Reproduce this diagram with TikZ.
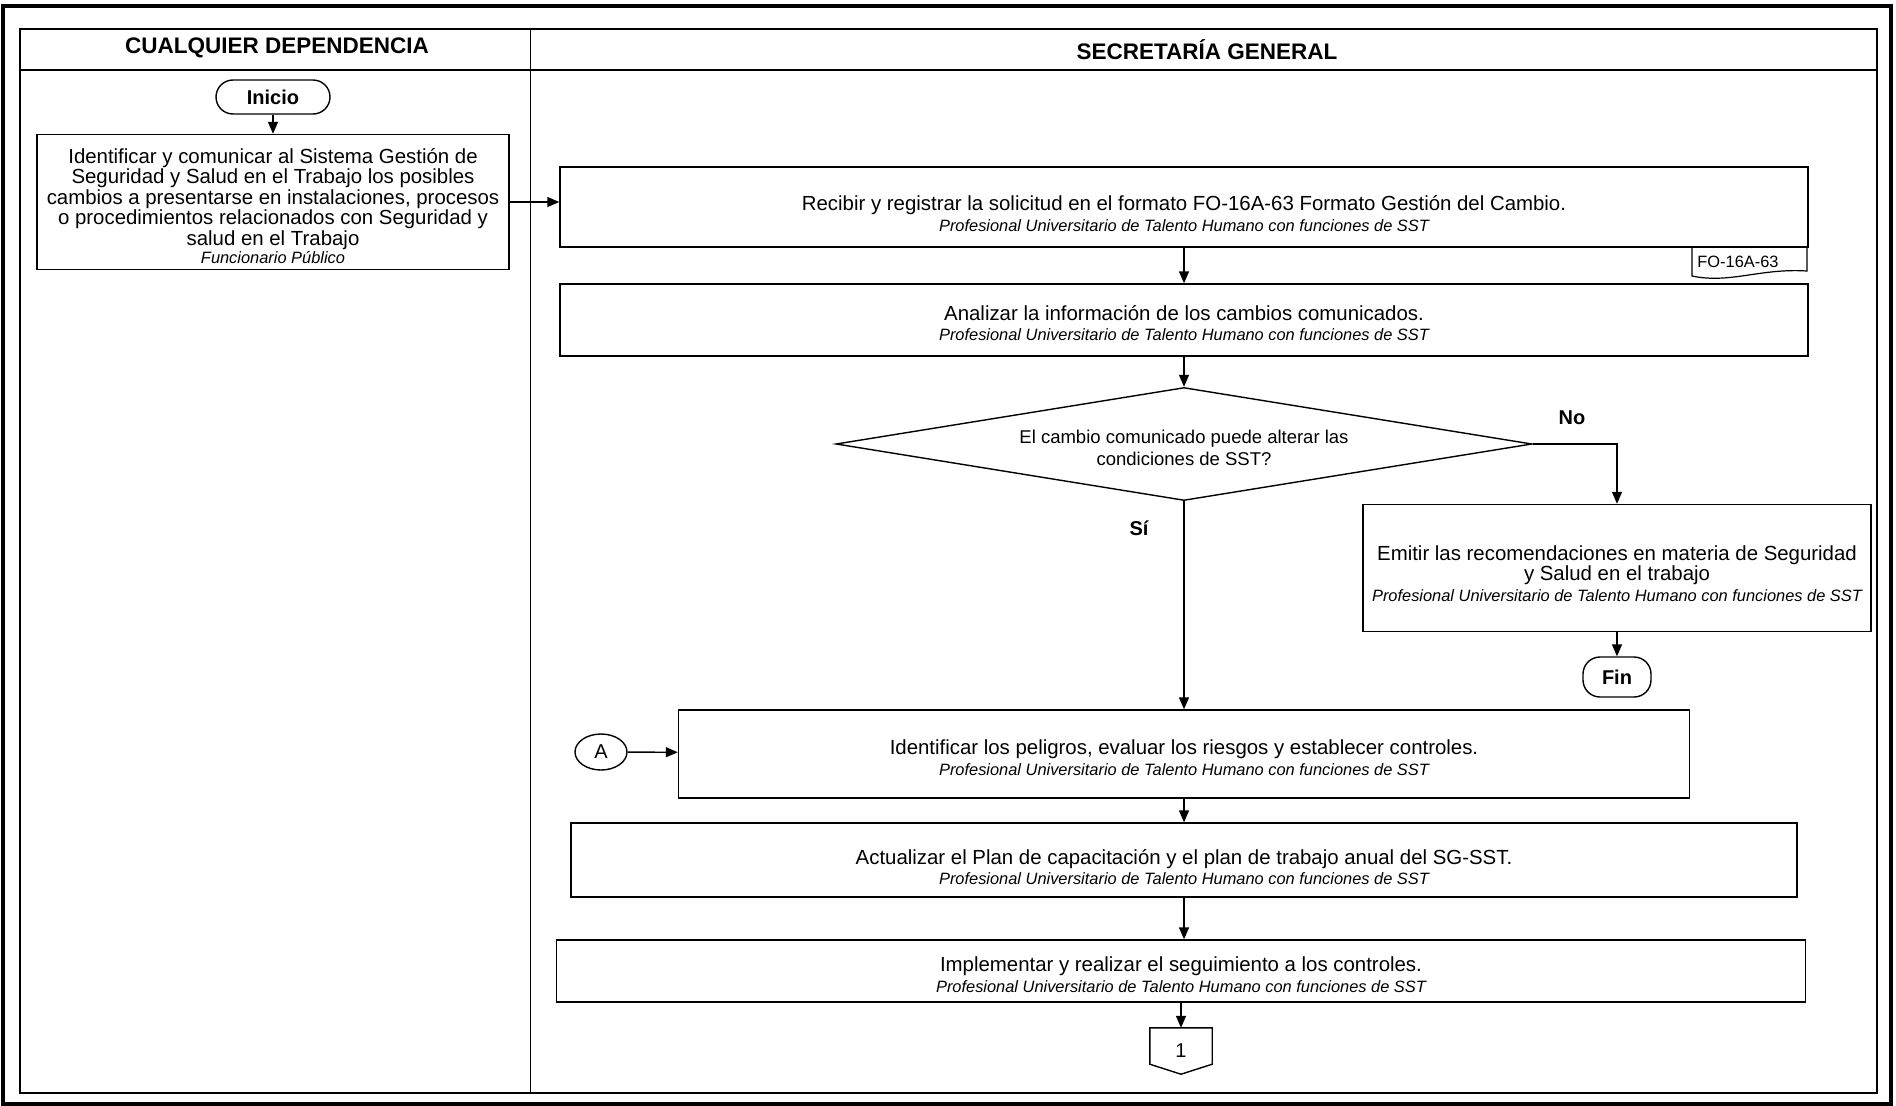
\documentclass[tikz,border=0pt]{standalone}
\usepackage{fontspec}
\setmainfont{Liberation Sans}
\usetikzlibrary{arrows.meta,shapes.geometric}

\tikzset{
  lane/.style={font=\fontsize{22.5}{24}\selectfont\bfseries},
  proc/.style={draw, line width=1.4pt, align=center, inner sep=0pt,
    font=\fontsize{20.4}{20.6}\selectfont},
  term/.style={draw, line width=1.4pt, rounded corners=17pt,
    font=\fontsize{20}{22}\selectfont\bfseries},
  decision/.style={draw, diamond, aspect=6.16, line width=1.4pt, align=center,
    inner sep=0pt, font=\fontsize{18.5}{21.8}\selectfont},
  answer/.style={font=\fontsize{20}{22}\selectfont\bfseries},
  flow/.style={line width=1.4pt, -{Triangle[length=12pt,width=10pt]}},
}
\newcommand{\resp}[1]{{\fontsize{16.4}{19}\selectfont\itshape #1}}
\newcommand{\lift}[1][26pt]{\rule{0pt}{#1}}

\begin{document}
\begin{tikzpicture}[x=1pt,y=-1pt]
\useasboundingbox (0,0) rectangle (1896,1106);
% draw the frame and the lanes
\draw[line width=4pt] (3,6) rectangle (1891,1104);
\draw[line width=1.5pt] (20,29) rectangle (1877,1093);
\draw[line width=1.5pt] (20,70) -- (1877,70);
\draw[line width=0.8pt] (530,29) -- (530,1093);

% draw the lane titles
\node (laneA) [lane] at (277,48) {CUALQUIER DEPENDENCIA};
\node (laneB) [lane] at (1207,50) {SECRETARÍA GENERAL};

% draw nodes to add the steps
\node (inicio) [term, minimum width=114pt, minimum height=34pt] at (273,97) {Inicio};
\node (ident) [proc, minimum width=472pt, minimum height=135pt] at (273,202) {
  \lift[22.5pt]Identificar y comunicar al Sistema Gestión de\\
  Seguridad y Salud en el Trabajo los posibles\\
  cambios a presentarse en instalaciones, procesos\\
  o procedimientos relacionados con Seguridad y\\
  salud en el Trabajo\\[-3pt]
  \resp{Funcionario Público}
};
\node (recibir) [proc, minimum width=1248pt, minimum height=80pt] at (1184,207) {
  \lift[28pt]Recibir y registrar la solicitud en el formato FO-16A-63 Formato Gestión del Cambio.\\
  \resp{Profesional Universitario de Talento Humano con funciones de SST}
};
\node (analizar) [proc, minimum width=1248pt, minimum height=72pt] at (1184,320) {
  \lift[21pt]Analizar la información de los cambios comunicados.\\
  \resp{Profesional Universitario de Talento Humano con funciones de SST}
};
\node (altera) [decision, minimum width=696pt, minimum height=113pt] at (1184,444) {
  \lift[21pt]El cambio comunicado puede alterar las\\
  condiciones de SST?
};
\node (emitir) [proc, minimum width=508pt, minimum height=127pt] at (1617,568) {
  \lift[26pt]Emitir las recomendaciones en materia de Seguridad\\
  y Salud en el trabajo\\
  \resp{Profesional Universitario de Talento Humano con funciones de SST}
};
\node (fin) [term, minimum width=68pt, minimum height=40pt] at (1617,677) {Fin};
\node (peligros) [proc, minimum width=1011pt, minimum height=88pt] at (1184,754) {
  \lift[22pt]Identificar los peligros, evaluar los riesgos y establecer controles.\\
  \resp{Profesional Universitario de Talento Humano con funciones de SST}
};
\node (conA) [draw, ellipse, line width=1.4pt, minimum width=52pt, minimum height=36pt,
  inner sep=0pt, font=\fontsize{20}{22}\selectfont] at (601,752) {A};
\node (plan) [proc, minimum width=1226pt, minimum height=74pt] at (1184,860) {
  \lift[29pt]Actualizar el Plan de capacitación y el plan de trabajo anual del SG-SST.\\
  \resp{Profesional Universitario de Talento Humano con funciones de SST}
};
\node (implem) [proc, minimum width=1249pt, minimum height=62pt] at (1181,971) {
  \lift[22pt]Implementar y realizar el seguimiento a los controles.\\
  \resp{Profesional Universitario de Talento Humano con funciones de SST}
};
\node (uno) [minimum width=62pt, minimum height=36pt, inner sep=0pt,
  text height=22pt, text depth=0pt, font=\fontsize{20}{22}\selectfont] at (1181,1046) {1};

% draw the format and the page connector
\node (fo) [font=\fontsize{16.4}{18}\selectfont] at (1738,262) {FO-16A-63};
\draw[line width=1.2pt] (1692,247) -- (1692,276)
  .. controls (1730,284) and (1760,268) .. (1807,271) -- (1807,247);
\draw[line width=1.4pt] (uno.north west) -- (uno.north east) -- (uno.south east)
  -- ([yshift=-10pt]uno.south) -- (uno.south west) -- cycle;

% draw the connectors
\draw[flow] (inicio) -- (ident);
\draw[flow] (ident.east) -- (ident.east -| recibir.west);
\draw[flow] (recibir) -- (analizar);
\draw[flow] (analizar) -- (altera);
\draw[flow] (altera.east) -| (emitir.north);
\draw[flow] (emitir) -- (fin);
\draw[flow] (altera.south) -- (peligros.north);
\draw[flow] (conA) -- (peligros);
\draw[flow] (peligros) -- (plan);
\draw[flow] (plan.south) -- (plan.south |- implem.north);
\draw[flow] (implem) -- (uno);

% draw the answers
\node (no) [answer] at (1572,418) {No};
\node (si) [answer] at (1139,528) {Sí};
\end{tikzpicture}
\end{document}
